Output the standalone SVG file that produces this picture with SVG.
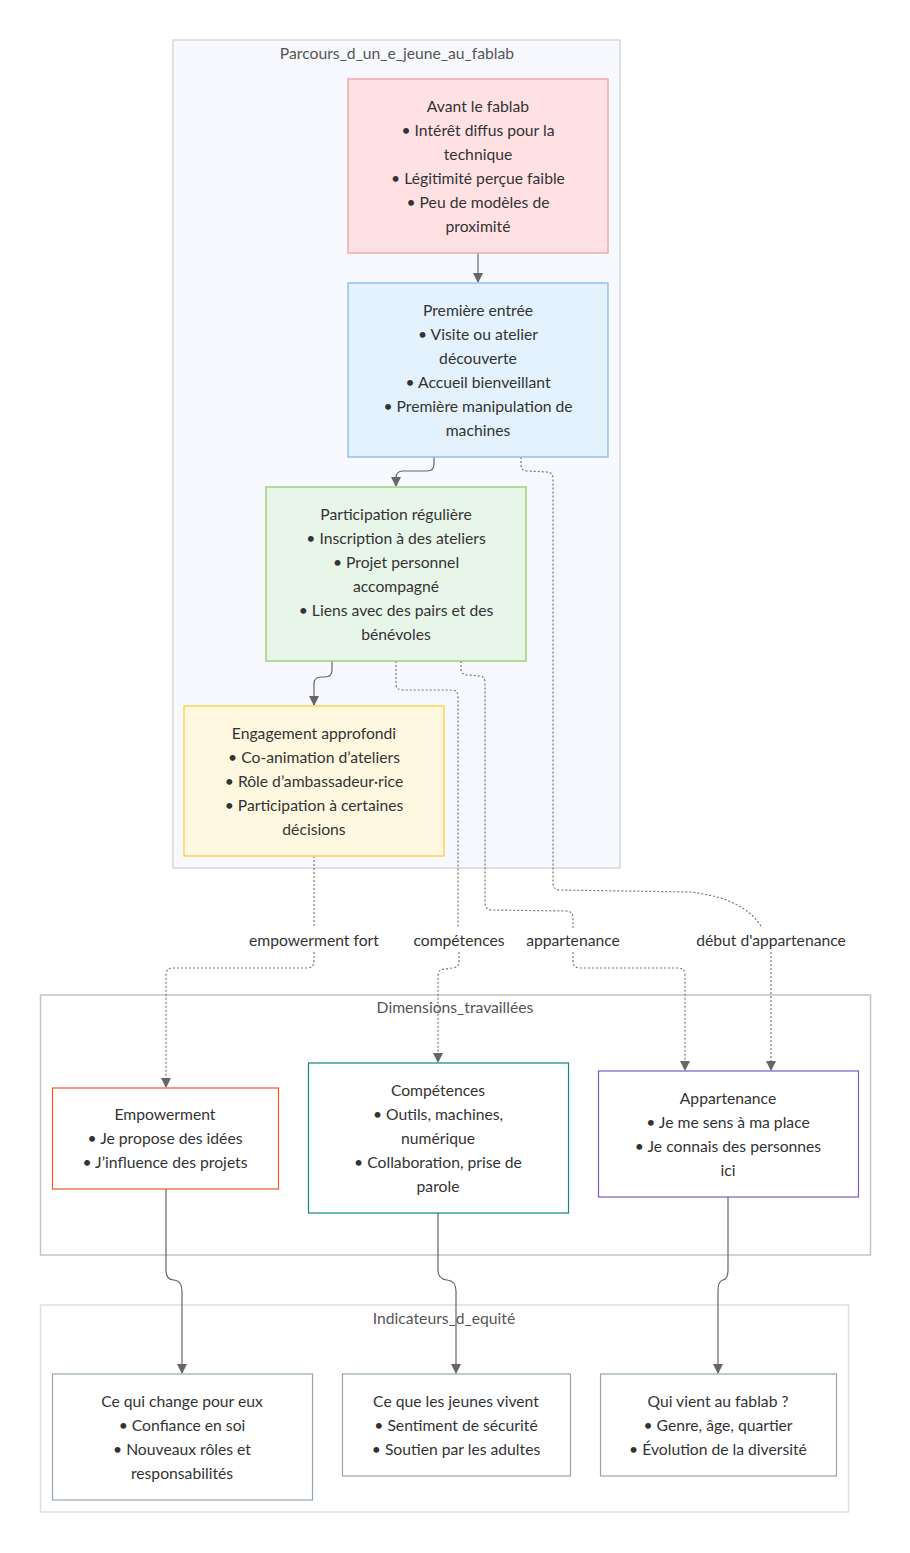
<svg xmlns="http://www.w3.org/2000/svg" width="910" height="1553" viewBox="0 0 910 1553">
<style>
text{font-family:Lato,"Noto Sans","DejaVu Sans",sans-serif;font-size:15.7px;fill:#333;text-anchor:middle}
.ct{fill:#555}
.cl{stroke-width:1.5}
.n{stroke-width:1.5}
.e{fill:none;stroke:#666;stroke-width:1.2}
.d{fill:none;stroke:#777;stroke-width:1.2;stroke-dasharray:2 2}
</style>
<defs>
<marker id="ah" viewBox="0 0 10 10" refX="9" refY="5" markerWidth="10" markerHeight="10" markerUnits="userSpaceOnUse" orient="auto">
<path d="M0,0 L10,5 L0,10 z" fill="#666"/>
</marker>
</defs>
<rect width="910" height="1553" fill="#fff"/>
<g id="cluster-parcours">
<rect class="cl" x="173" y="40" width="447" height="828" fill="#f8f9fe" stroke="#d6d7dc"/>
<text class="ct" x="397" y="59">Parcours_d_un_e_jeune_au_fablab</text>
</g>
<g id="cluster-dimensions">
<rect class="cl" x="40.5" y="995" width="830" height="260" fill="#fff" stroke="#c4c4c4"/>
<text class="ct" x="455" y="1013">Dimensions_travaillées</text>
</g>
<g id="cluster-indicateurs">
<rect class="cl" x="40.5" y="1305" width="808" height="207" fill="#fff" stroke="#dedede"/>
<text class="ct" x="444" y="1324">Indicateurs_d_equité</text>
</g>
<g id="connectors">
<path class="e" d="M478,253 L478,282" marker-end="url(#ah)"/>
<path class="e" d="M434,457 L434,464 Q434,471 427,471 L403,471 Q396,471 396,478 L396,486" marker-end="url(#ah)"/>
<path class="e" d="M332,661 L332,670 Q332,677 325,677 L321,677 Q314,677 314,684 L314,705" marker-end="url(#ah)"/>
<path class="d" d="M521,457 L521,465 Q521,471 528,471 L547,472 Q553,472 553,479 L553,883 Q553,890 560,890 L690,892 Q745,898 762,928"/>
<path class="d" d="M771,952 L771,1070" marker-end="url(#ah)"/>
<path class="d" d="M396,661 L396,684 Q396,690 403,690 L452,690 Q458,690 458,697 L458,928"/>
<path class="d" d="M459,952 L459,961 Q459,968 452,968 L445,969 Q438,969 438,976 L438,1062" marker-end="url(#ah)"/>
<path class="d" d="M461,661 L461,669 Q461,675 468,675 L479,676 Q485,676 485,683 L485,903 Q485,910 492,910 L566,911 Q573,911 573,918 L573,928"/>
<path class="d" d="M573,952 L573,961 Q573,968 580,968 L678,968 Q685,968 685,975 L685,1070" marker-end="url(#ah)"/>
<path class="d" d="M314,856 L314,928"/>
<path class="d" d="M314,952 L314,961 Q314,968 307,968 L173,968 Q166,968 166,975 L166,1087" marker-end="url(#ah)"/>
<path class="e" d="M166,1189 L166,1270 Q166,1280 174,1280 Q182,1281 182,1291 L182,1373" marker-end="url(#ah)"/>
<path class="e" d="M438,1213 L438,1270 Q438,1279 447,1280 Q456,1281 456,1291 L456,1373" marker-end="url(#ah)"/>
<path class="e" d="M728,1197 L728,1270 Q728,1279 723,1280 Q718,1281 718,1291 L718,1373" marker-end="url(#ah)"/>
<text x="314" y="946">empowerment fort</text>
<text x="459" y="946">compétences</text>
<text x="573" y="946">appartenance</text>
<text x="771" y="946">début d'appartenance</text>
</g>
<g id="node-avant">
<rect class="n" x="348" y="79" width="260" height="174" fill="#ffe1e4" stroke="#f0a9ae"/>
<text x="478" y="112">Avant le fablab</text>
<text x="478" y="136">• Intérêt diffus pour la</text>
<text x="478" y="160">technique</text>
<text x="478" y="184">• Légitimité perçue faible</text>
<text x="478" y="208">• Peu de modèles de</text>
<text x="478" y="232">proximité</text>
</g>
<g id="node-premiere">
<rect class="n" x="348" y="283" width="260" height="174" fill="#e3f2fd" stroke="#94c1f2"/>
<text x="478" y="316">Première entrée</text>
<text x="478" y="340">• Visite ou atelier</text>
<text x="478" y="364">découverte</text>
<text x="478" y="388">• Accueil bienveillant</text>
<text x="478" y="412">• Première manipulation de</text>
<text x="478" y="436">machines</text>
</g>
<g id="node-participation">
<rect class="n" x="266" y="487" width="260" height="174" fill="#e8f5e9" stroke="#9fcf7c"/>
<text x="396" y="520">Participation régulière</text>
<text x="396" y="544">• Inscription à des ateliers</text>
<text x="396" y="568">• Projet personnel</text>
<text x="396" y="592">accompagné</text>
<text x="396" y="616">• Liens avec des pairs et des</text>
<text x="396" y="640">bénévoles</text>
</g>
<g id="node-engagement">
<rect class="n" x="184" y="706" width="260" height="150" fill="#fff8e1" stroke="#ffd354"/>
<text x="314" y="739">Engagement approfondi</text>
<text x="314" y="763">• Co-animation d’ateliers</text>
<text x="314" y="787">• Rôle d’ambassadeur·rice</text>
<text x="314" y="811">• Participation à certaines</text>
<text x="314" y="835">décisions</text>
</g>
<g id="node-empowerment">
<rect x="52.5" y="1088" width="226" height="101" fill="#fff" stroke="#ef5a2a" stroke-width="1.2"/>
<text x="165" y="1120">Empowerment</text>
<text x="165" y="1144">• Je propose des idées</text>
<text x="165" y="1168">• J’influence des projets</text>
</g>
<g id="node-competences">
<rect x="308.5" y="1063" width="260" height="150" fill="#fff" stroke="#11897a" stroke-width="1.2"/>
<text x="438" y="1096">Compétences</text>
<text x="438" y="1120">• Outils, machines,</text>
<text x="438" y="1144">numérique</text>
<text x="438" y="1168">• Collaboration, prise de</text>
<text x="438" y="1192">parole</text>
</g>
<g id="node-appartenance">
<rect x="598.5" y="1071" width="260" height="126" fill="#fff" stroke="#7e5bc3" stroke-width="1.2"/>
<text x="728" y="1104">Appartenance</text>
<text x="728" y="1128">• Je me sens à ma place</text>
<text x="728" y="1152">• Je connais des personnes</text>
<text x="728" y="1176">ici</text>
</g>
<g id="node-change">
<rect x="52.5" y="1374" width="260" height="126" fill="#fff" stroke="#93a6b2" stroke-width="1.2"/>
<text x="182" y="1407">Ce qui change pour eux</text>
<text x="182" y="1431">• Confiance en soi</text>
<text x="182" y="1455">• Nouveaux rôles et</text>
<text x="182" y="1479">responsabilités</text>
</g>
<g id="node-vivent">
<rect x="342.5" y="1374" width="228" height="102" fill="#fff" stroke="#93a6b2" stroke-width="1.2"/>
<text x="456" y="1407">Ce que les jeunes vivent</text>
<text x="456" y="1431">• Sentiment de sécurité</text>
<text x="456" y="1455">• Soutien par les adultes</text>
</g>
<g id="node-qui">
<rect x="600.5" y="1374" width="236" height="102" fill="#fff" stroke="#93a6b2" stroke-width="1.2"/>
<text x="718" y="1407">Qui vient au fablab ?</text>
<text x="718" y="1431">• Genre, âge, quartier</text>
<text x="718" y="1455">• Évolution de la diversité</text>
</g>
</svg>
